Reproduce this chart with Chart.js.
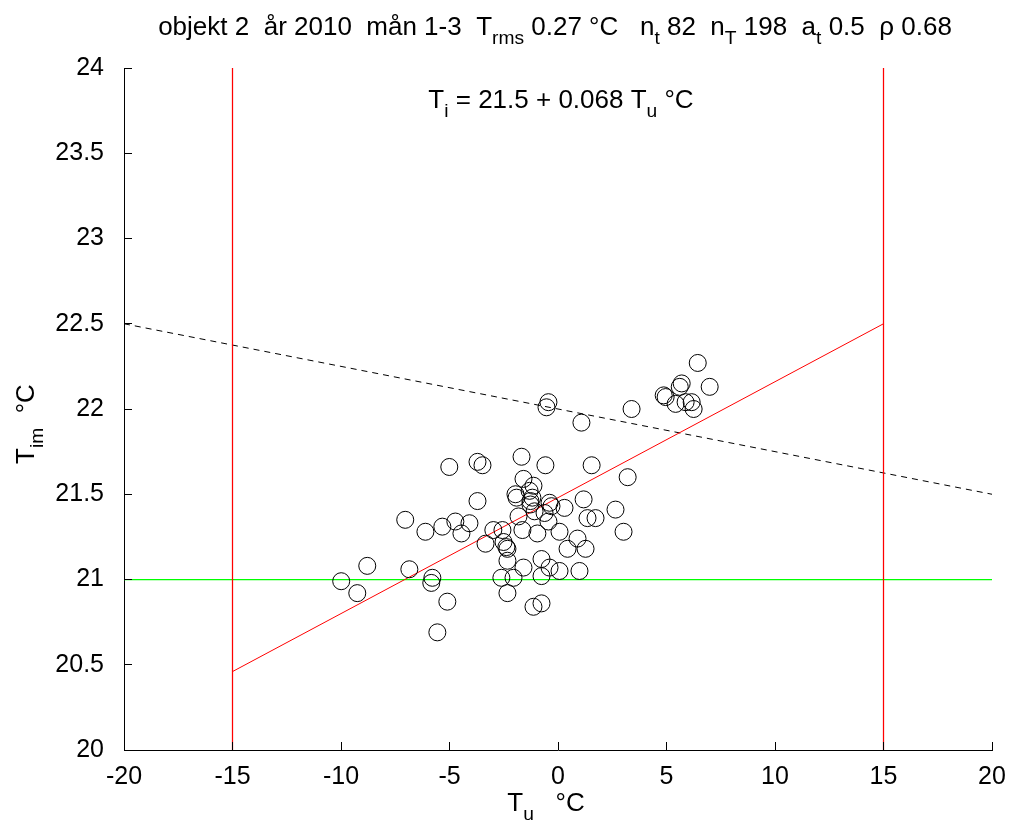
<!DOCTYPE html>
<html>
<head>
<meta charset="utf-8">
<script src="https://cdn.jsdelivr.net/npm/chart.js@4/dist/chart.umd.min.js"></script>
<style>
  body { margin: 0; background: #fff; }
  #wrap { width: 1010px; height: 830px; }
</style>
</head>
<body>
<div id="wrap"><canvas id="scatterChart" width="1010" height="830"></canvas></div>
<script>
// outdoor temperature T_u (x) and indoor temperature T_im (y)
const tuValues = [
  -9.99, -9.25, -8.79, -7.04, -6.85, -6.11, -5.79, -5.84, -5.56, -5.33,
  -5.10, -5.01, -4.73, -4.45, -4.08, -3.71, -3.71, -3.48, -3.34, -2.98,
  -2.61, -2.56, -2.51, -2.38, -2.33, -2.33, -2.33, -2.05, -1.96, -1.91,
  -1.82, -1.68, -1.64, -1.59, -1.59, -1.31, -1.27, -1.18, -1.13, -1.13,
  -0.95, -0.76, -0.76, -0.76, -0.62, -0.58, -0.53, -0.44, -0.44, -0.39,
  -0.30, -0.39, 0.07, 0.07, 0.30, 0.44, 0.90, 0.99, 1.08, 1.18,
  1.27, 1.36, 1.55, 1.73, 2.65, 3.02, 3.21, 3.39, 4.87, 4.96,
  5.42, 5.61, 5.70, 5.88, 6.16, 6.25, 6.44, 6.99, -1.08, -1.27
];
const timValues = [
  20.99, 20.92, 21.08, 21.35, 21.06, 21.28, 21.01, 20.98, 20.69, 21.31,
  20.87, 21.66, 21.34, 21.27, 21.33, 21.46, 21.69, 21.67, 21.21, 21.29,
  21.01, 21.29, 21.22, 21.19, 21.18, 21.11, 20.92, 21.01, 21.50, 21.48,
  21.37, 21.72, 21.29, 21.59, 21.07, 21.52, 21.44, 21.48, 21.55, 20.84,
  21.27, 21.12, 21.02, 20.86, 21.39, 21.67, 22.01, 22.04, 21.34, 21.45,
  21.43, 21.07, 21.28, 21.05, 21.42, 21.18, 21.24, 21.05, 21.92, 21.47,
  21.18, 21.36, 21.67, 21.36, 21.41, 21.28, 21.60, 22.00, 22.08, 22.07,
  22.03, 22.13, 22.15, 22.04, 22.04, 22.00, 22.27, 22.13, 21.40, 21.46
];

// reference lines
const fitX = [-15, 15];
const fitY = [20.46, 22.5];
const dashX = [-20, 20];
const dashY = [22.5, 21.5];
const limitX = [-15, 15];
const setpointY = 21;

// axes
const xTicks = [-20, -15, -10, -5, 0, 5, 10, 15, 20];
const xTickLabels = ["-20", "-15", "-10", "-5", "0", "5", "10", "15", "20"];
const yTicks = [20, 20.5, 21, 21.5, 22, 22.5, 23, 23.5, 24];
const yTickLabels = ["20", "20.5", "21", "21.5", "22", "22.5", "23", "23.5", "24"];

const FONT = '"Liberation Sans", Arial, Helvetica, sans-serif';
const FS = 26;
const TICK_FS = 25;

// text with subscripts
function drawRich(ctx, parts, x, y, size) {
  let total = 0;
  parts.forEach((p) => {
    ctx.font = (p.sub ? size * 0.74 : size) + "px " + FONT;
    p.w = ctx.measureText(p.t).width;
    total += p.w;
  });
  let cx = x - total / 2;
  ctx.textAlign = "left";
  ctx.textBaseline = "alphabetic";
  parts.forEach((p) => {
    ctx.font = (p.sub ? size * 0.74 : size) + "px " + FONT;
    ctx.fillText(p.t, cx, y + (p.sub ? size * 0.36 : 0));
    cx += p.w;
  });
}

const titleParts = [
  { t: "objekt 2  år 2010  mån 1-3  T" }, { t: "rms", sub: true },
  { t: " 0.27 °C   n" }, { t: "t", sub: true },
  { t: " 82  n" }, { t: "T", sub: true },
  { t: " 198  a" }, { t: "t", sub: true },
  { t: " 0.5  ρ 0.68" }
];
const fitParts = [
  { t: "T" }, { t: "i", sub: true }, { t: " = 21.5 + 0.068 T" }, { t: "u", sub: true }, { t: " °C" }
];
const xTitleParts = [{ t: "T" }, { t: "u", sub: true }, { t: "   °C" }];
const yTitleParts = [{ t: "T" }, { t: "im", sub: true }, { t: "  °C" }];

// inward ticks + texts
const decorPlugin = {
  id: "decor",
  afterDraw(chart) {
    const ctx = chart.ctx;
    const xs = chart.scales.x;
    const ys = chart.scales.y;
    const area = chart.chartArea;
    ctx.save();
    ctx.strokeStyle = "#000";
    ctx.lineWidth = 1;
    ctx.beginPath();
    xTicks.forEach((v) => {
      const px = Math.floor(xs.getPixelForValue(v)) + 0.5;
      ctx.moveTo(px, area.bottom);
      ctx.lineTo(px, area.bottom - 8);
    });
    yTicks.forEach((v) => {
      const py = Math.floor(ys.getPixelForValue(v)) + 0.5;
      ctx.moveTo(area.left, py);
      ctx.lineTo(area.left + 8, py);
    });
    ctx.stroke();

    ctx.fillStyle = "#000";
    drawRich(ctx, titleParts, 555, 35, FS);
    drawRich(ctx, fitParts, 561, 108, FS);
    drawRich(ctx, xTitleParts, 546, 811, FS);
    ctx.translate(34, 424);
    ctx.rotate(-Math.PI / 2);
    drawRich(ctx, yTitleParts, 0, 0, FS);
    ctx.restore();
  }
};

const toPoints = (xa, ya) => xa.map((x, i) => ({ x: x, y: ya[i] }));

const lineDefaults = {
  showLine: true,
  pointRadius: 0,
  borderWidth: 1.25,
  fill: false,
  tension: 0
};

new Chart(document.getElementById("scatterChart"), {
  type: "scatter",
  data: {
    datasets: [
      {
        label: "mätningar",
        data: toPoints(tuValues, timValues),
        pointStyle: "circle",
        pointRadius: 8.5,
        pointBorderWidth: 1,
        pointBorderColor: "#000",
        pointBackgroundColor: "rgba(0,0,0,0)"
      },
      Object.assign({}, lineDefaults, {
        data: toPoints([limitX[0], limitX[0]], [yTicks[0], yTicks[yTicks.length - 1]]),
        borderColor: "#ff0000"
      }),
      Object.assign({}, lineDefaults, {
        data: toPoints([limitX[1], limitX[1]], [yTicks[0], yTicks[yTicks.length - 1]]),
        borderColor: "#ff0000"
      }),
      Object.assign({}, lineDefaults, {
        data: toPoints(fitX, fitY),
        borderColor: "#ff0000",
        borderWidth: 1
      }),
      Object.assign({}, lineDefaults, {
        data: toPoints(dashX, dashY),
        borderColor: "#000",
        borderWidth: 1,
        borderDash: [6, 5]
      }),
      Object.assign({}, lineDefaults, {
        data: toPoints([xTicks[0], xTicks[xTicks.length - 1]], [setpointY, setpointY]),
        borderColor: "#00ff00"
      })
    ]
  },
  options: {
    responsive: false,
    animation: false,
    layout: {
      padding: { left: 0, right: 18, top: 68, bottom: 0 }
    },
    plugins: {
      legend: { display: false },
      tooltip: { enabled: false }
    },
    scales: {
      x: {
        type: "linear",
        min: xTicks[0],
        max: xTicks[xTicks.length - 1],
        afterFit: (scale) => {
          scale.height = 80;
          scale.paddingLeft = 0;
          scale.paddingRight = 0;
        },
        afterBuildTicks: (scale) => { scale.ticks = xTicks.map((v) => ({ value: v })); },
        grid: { display: false },
        border: { display: true, color: "#000", width: 1 },
        ticks: {
          color: "#000",
          padding: 4,
          maxRotation: 0,
          font: { family: FONT, size: TICK_FS },
          callback: (value) => xTickLabels[xTicks.indexOf(value)]
        }
      },
      y: {
        type: "linear",
        min: yTicks[0],
        max: yTicks[yTicks.length - 1],
        afterFit: (scale) => {
          scale.width = 124;
          scale.paddingTop = 0;
          scale.paddingBottom = 0;
        },
        afterBuildTicks: (scale) => { scale.ticks = yTicks.map((v) => ({ value: v })); },
        grid: { display: false },
        border: { display: true, color: "#000", width: 1 },
        ticks: {
          color: "#000",
          padding: 12,
          font: { family: FONT, size: TICK_FS },
          callback: (value) => yTickLabels[yTicks.indexOf(value)]
        }
      }
    }
  },
  plugins: [decorPlugin]
});
</script>
</body>
</html>
